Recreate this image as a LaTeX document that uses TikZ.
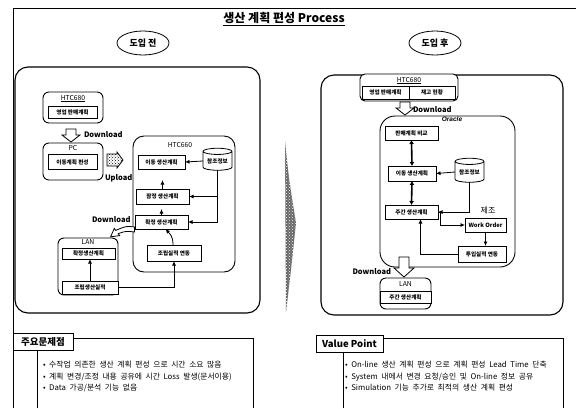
\documentclass[tikz,border=0pt]{standalone}
\usepackage{fontspec}
\setmainfont{Noto Sans CJK KR}
\newfontfamily\latinit{Liberation Sans}
\usetikzlibrary{arrows.meta,shapes.geometric,patterns,calc}
\newcommand\widespaces{\spaceskip=3.6pt plus 1pt\relax}
\begin{document}
\begin{tikzpicture}[x=1pt,y=-1pt,
  every node/.style={inner sep=0pt,outer sep=0pt},
  box/.style={draw,line width=1pt,fill=white,font=\fontsize{5.6}{6}\selectfont\bfseries},
  panel/.style={draw,line width=1.1pt,rounded corners=13pt},
  grp/.style={draw,line width=0.9pt,rounded corners=6pt,fill=white},
  arr/.style={-{Latex[length=4.5pt,width=4pt]},line width=0.8pt},
  darr/.style={{Latex[length=4pt,width=5pt]}-{Latex[length=4pt,width=5pt]},line width=1.6pt},
  lbl/.style={font=\fontsize{6.8}{7}\selectfont},
  dl/.style={font=\fontsize{7.5}{8}\selectfont\bfseries},
  hollow/.style={draw,line width=0.8pt,fill=white},
  db/.style={draw,cylinder,shape border rotate=90,aspect=0.3,line width=0.8pt,fill=white,font=\fontsize{5.6}{6}\selectfont\bfseries},
  note/.style={font=\fontsize{7.8}{9}\selectfont\widespaces,anchor=west},
  head/.style={draw,line width=1pt,fill=white,font=\fontsize{9.5}{10}\selectfont\bfseries},
  oval/.style={draw,ellipse,line width=0.8pt,minimum width=52pt,minimum height=24pt,font=\fontsize{9}{10}\selectfont\bfseries},
]
\useasboundingbox (0,0) rectangle (576,408);
\fill[white] (0,0) rectangle (576,408);

% outer frame
\draw[line width=0.8pt] (13,408) -- (13,8) -- (576,8);

% title
\node[font=\fontsize{12}{12}\selectfont\bfseries] (title) at (284,18) {생산 계획 편성 Process};
\draw[line width=0.8pt] ([yshift=-1.5pt]title.south west) -- ([yshift=-1.5pt]title.south east);

\node[oval] (before) at (143,43) {도입 전};
\node[oval] (after) at (435,43) {도입 후};

% panels
\draw[panel] (15,67) rectangle (260,313);
\draw[panel] (321,75) rectangle (563,315);

% transition marker between the panels
\fill[black!60] (285,141) .. controls (289,180) .. (296,223) .. controls (291,270) .. (286,312) -- cycle;
\fill[pattern=crosshatch dots,pattern color=white] (285,141) .. controls (289,180) .. (296,223) .. controls (291,270) .. (286,312) -- cycle;

% ---------------- before ----------------
\draw[grp] (43,92) rectangle (103,123);
\node[lbl] (htcA) at (73,98) {HTC680};
\draw[line width=0.5pt] ([yshift=-0.8pt]htcA.south west) -- ([yshift=-0.8pt]htcA.south east);
\node[box,minimum width=49pt,minimum height=12pt] (salesA) at (72.5,112) {영업 판매계획};

\draw[hollow] (66,129) -- (76,129) -- (76,135) -- (80,135) -- (71,142) -- (62,135) -- (66,135) -- cycle;
\node[dl,anchor=west] (dlA) at (84,135) {Download};

\draw[grp] (43,143) rectangle (103,180);
\node[lbl] (pc) at (73,148) {PC};
\node[box,minimum width=49pt,minimum height=15pt] (pcplan) at (72.5,162) {이동계획 편성};

\draw[line width=0.8pt,pattern=crosshatch dots] (107,154) -- (117,154) -- (117,152) -- (123,160) -- (117,168) -- (117,166) -- (107,166) -- cycle;
\node[dl,anchor=west] (upl) at (105,178) {Upload};

\node[dl,anchor=west] (dlB) at (92,220) {Download};

\draw[grp,rounded corners=11pt] (133,136) rectangle (235,272);
\node[lbl] (htc660) at (180,145) {HTC660};

\node[box,minimum width=47pt,minimum height=14pt] (idA) at (161.5,162) {이동 생산계획};
\node[db,minimum width=29pt,minimum height=22pt] (refA) at (217.5,161) {참조정보};
\node[box,minimum width=53pt,minimum height=15pt] (jamA) at (162.5,196.5) {잠정 생산계획};
\node[box,minimum width=53pt,minimum height=14pt] (hwA) at (161.5,222) {확정 생산계획};
\node[box,minimum width=54pt,minimum height=16pt] (jorA) at (174,253) {조립실적 연동};

\draw[arr] (refA.west) -- (idA.east);
\draw[arr] (refA.south) |- (hwA.east);
\draw[arr] (refA.south |- jamA.east) -- (jamA.east);
\draw[arr] (jamA.north) -- ++(0,-9);
\draw[arr] (hwA.north) -- ++(0,-6);
\draw[arr] ([xshift=-1pt]jorA.north) .. controls (173,236) and (170,234) .. ([xshift=4pt]hwA.south);

% curved block arrow towards LAN
\draw[hollow] (134.5,227) .. controls (126,226) .. (115.8,230.4) -- (114.3,228.4) -- (110.6,236.8) -- (119.7,235.6) -- (118.2,233.6) .. controls (126,231) .. (134.5,232) -- cycle;

\draw[grp] (58,238) rectangle (118,295);
\node[lbl] (lanA) at (88,242.5) {LAN};
\node[box,minimum width=53pt,minimum height=11pt] (hwL) at (88.5,253.5) {확정생산계획};
\node[box,minimum width=56pt,minimum height=13pt] (jrsA) at (90,287.5) {조립생산실적};

\draw[arr] (jrsA.north) -- (jrsA.north |- hwL.south);
\draw[arr] (jrsA.east) -| (jorA.south);

% ---------------- after ----------------
\draw[grp,rounded corners=5pt] (360,74) rectangle (458,101);
\node[lbl] (htcB) at (409,80) {HTC680};
\draw[line width=0.5pt] ([yshift=-0.8pt]htcB.south west) -- ([yshift=-0.8pt]htcB.south east);
\node[box,minimum width=47pt,minimum height=13pt] (salesB) at (385.5,92.5) {영업 판매계획};
\node[box,minimum width=46pt,minimum height=13pt] (stock) at (432,92.5) {재고 현황};

\draw[hollow] (400,102) -- (410,102) -- (410,108) -- (414,108) -- (405,115) -- (396,108) -- (400,108) -- cycle;
\node[dl,anchor=west] (dlC) at (413,110) {Download};

\draw[grp,rounded corners=15pt,fill=none] (380,116) rectangle (515,267);
\node[font=\latinit\fontsize{6.5}{7}\selectfont\bfseries\itshape] (oracle) at (452,119.5) {Oracle};

\node[box,minimum width=53pt,minimum height=14pt] (pbB) at (411.5,133) {판매계획 비교};
\node[box,minimum width=48pt,minimum height=15pt] (idB) at (412,173.5) {이동 생산계획};
\node[db,minimum width=29pt,minimum height=24pt] (refB) at (469.5,172) {참조정보};
\node[box,minimum width=53pt,minimum height=14pt] (jgB) at (411.5,212) {주간 생산계획};
\node[font=\fontsize{8}{8}\selectfont] (mfg) at (488,210) {제조};
\node[box,minimum width=41pt,minimum height=14pt,font=\fontsize{5.8}{6}\selectfont\bfseries] (woB) at (485.5,225) {Work Order};
\node[box,minimum width=48pt,minimum height=16pt] (tuB) at (482,254) {투입실적 연동};

\draw[darr] (pbB.south) -- (idB.north);
\draw[darr] (idB.south) -- (jgB.north);
\draw[arr] (refB.west) -- (idB.east);
\draw[arr] (refB.south) |- (jgB.east);
\draw[arr] (jgB.east) -- ++(2,0) |- (woB.west);
\draw[arr] (woB.south) -- (woB.south |- tuB.north);
\draw[arr] (tuB.west) -| ([xshift=9pt]jgB.south);

\draw[hollow] (399,257) -- (409,257) -- (409,268) -- (414,268) -- (404,277) -- (394,268) -- (399,268) -- cycle;
\node[dl,anchor=east] (dlD) at (391,272) {Download};

\draw[grp] (380,278) rectangle (431,309);
\node[lbl] (lanB) at (405.5,284) {LAN};
\node[box,minimum width=51pt,minimum height=12pt] (jgL) at (405.5,297.5) {주간 생산계획};

% ---------------- notes ----------------
\draw[line width=0.8pt] (37,408) -- (37,350);
\draw[line width=0.8pt] (73,338) -- (253,338) -- (253,408);
\node[head,minimum width=60pt,minimum height=17pt] (probs) at (43,341.5) {주요문제점};
\node[note] (p1) at (43,365) {• 수작업 의존한 생산 계획 편성 으로 시간 소요 많음};
\node[note] (p2) at (43,377) {• 계획 변경/조정 내용 공유에 시간 Loss 발생(문서이용)};
\node[note] (p3) at (43,388) {• Data 가공/분석 기능 없음};

\draw[line width=0.8pt] (343,408) -- (343,352);
\draw[line width=0.8pt] (383,338) -- (563,338) -- (563,408);
\node[head,minimum width=67pt,minimum height=17pt] (value) at (349.5,343.5) {Value Point};
\node[note] (v1) at (345,365) {• On-line 생산 계획 편성 으로 계획 편성 Lead Time 단축};
\node[note] (v2) at (345,377) {• System 내에서 변경 요청/승인 및 On-line 정보 공유};
\node[note] (v3) at (345,388) {• Simulation 기능 추가로 최적의 생산 계획 편성};
\end{tikzpicture}
\end{document}
